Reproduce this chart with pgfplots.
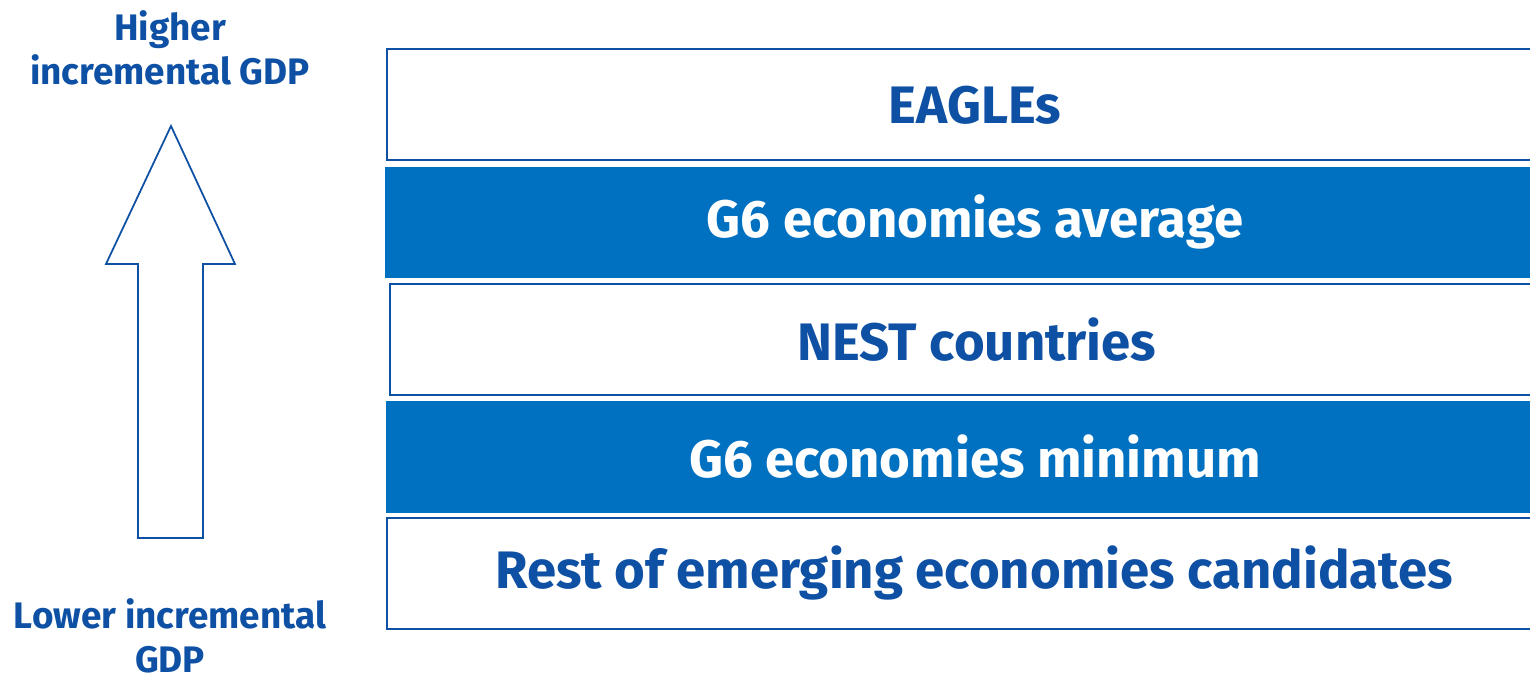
\documentclass[border=0pt]{standalone}
\usepackage{fontspec}
\setmainfont{Fira Sans}
\usepackage{pgfplots}
\pgfplotsset{compat=1.18}
\definecolor{dblue}{RGB}{14,80,164}
\definecolor{fblue}{RGB}{0,112,192}
\begin{document}
\begin{tikzpicture}
\begin{axis}[
  scale only axis, width=15.3cm, height=6.73cm,
  xmin=0, xmax=1530, ymin=0, ymax=673, y dir=reverse,
  hide axis, clip=true,
]
\path (rel axis cs:0,0) rectangle (rel axis cs:1,1);
% boxes
\addplot[draw=dblue, line width=0.7pt, fill=white] coordinates {(387,49) (1545,49) (1545,160) (387,160)} -- cycle;
\addplot[draw=none, fill=fblue] coordinates {(385,167) (1545,167) (1545,278) (385,278)} -- cycle;
\addplot[draw=dblue, line width=0.7pt, fill=white] coordinates {(390,284) (1545,284) (1545,395) (390,395)} -- cycle;
\addplot[draw=none, fill=fblue] coordinates {(386,401) (1545,401) (1545,513) (386,513)} -- cycle;
\addplot[draw=dblue, line width=0.7pt, fill=white] coordinates {(387,518) (1545,518) (1545,629) (387,629)} -- cycle;
% arrow
\addplot[draw=dblue, line width=0.5pt, fill=white] coordinates {(138,538) (203,538) (203,264) (235,264) (171,126) (106,264) (138,264)} -- cycle;
% box labels
\node[text=dblue, font=\fontsize{15}{18}\selectfont\bfseries] at (axis cs:975,105) {EAGLEs};
\node[text=white, font=\fontsize{15}{18}\selectfont\bfseries] at (axis cs:975,222) {G6 economies average};
\node[text=dblue, font=\fontsize{15}{18}\selectfont\bfseries] at (axis cs:977,340) {NEST countries};
\node[text=white, font=\fontsize{15}{18}\selectfont\bfseries] at (axis cs:975,457) {G6 economies minimum};
\node[text=dblue, font=\fontsize{15}{18}\selectfont\bfseries] at (axis cs:974,573) {Rest of emerging economies candidates};
% side labels
\node[text=dblue, font=\fontsize{10.5}{12.6}\selectfont\bfseries, align=center, inner sep=0pt] at (axis cs:170,48) {Higher\\incremental GDP};
\node[text=dblue, font=\fontsize{10.5}{12.6}\selectfont\bfseries, align=center, inner sep=0pt] at (axis cs:170,636) {Lower incremental\\GDP};
\end{axis}
\end{tikzpicture}
\end{document}
